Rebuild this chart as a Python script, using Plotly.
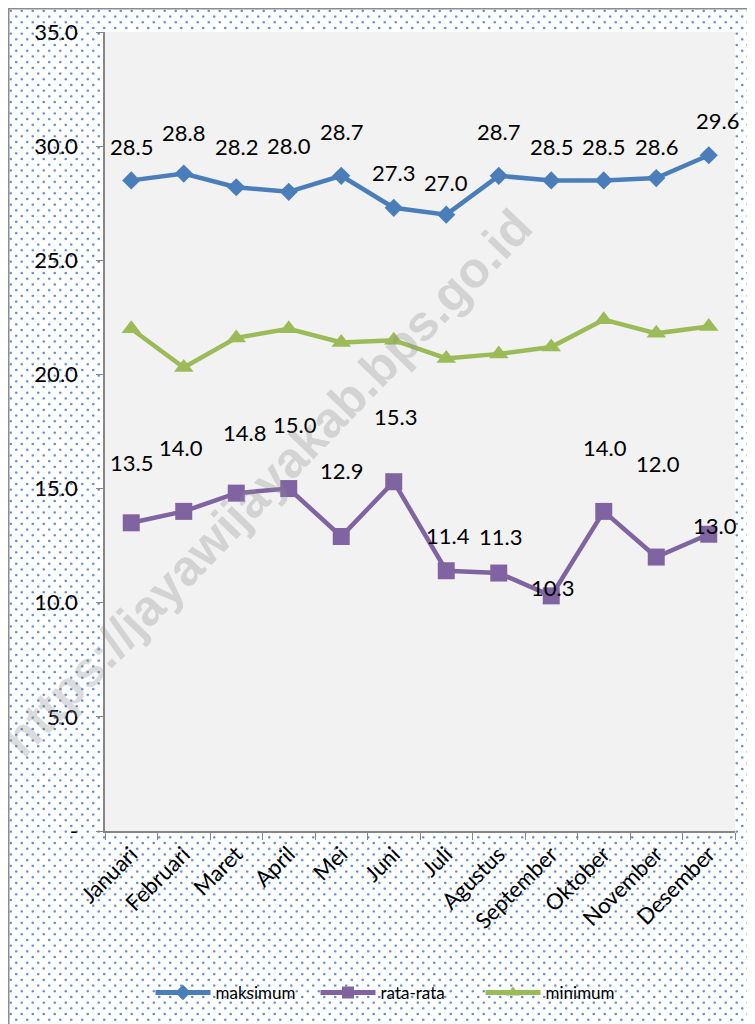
import plotly.graph_objects as go

bulan = ["Januari", "Februari", "Maret", "April", "Mei", "Juni", "Juli",
         "Agustus", "September", "Oktober", "November", "Desember"]
maksimum = [28.5, 28.8, 28.2, 28.0, 28.7, 27.3, 27.0, 28.7, 28.5, 28.5, 28.6, 29.6]
rata_rata = [13.5, 14.0, 14.8, 15.0, 12.9, 15.3, 11.4, 11.3, 10.3, 14.0, 12.0, 13.0]
minimum = [22.0, 20.3, 21.6, 22.0, 21.4, 21.5, 20.7, 20.9, 21.2, 22.4, 21.8, 22.1]
y_ticks = [0, 5, 10, 15, 20, 25, 30, 35]
y_ticktext = ["-", "5.0", "10.0", "15.0", "20.0", "25.0", "30.0", "35.0"]

# label offsets (pixels), labels were moved by hand in the original
max_yshift = [34, 41, 41, 46, 44, 35, 32, 44, 34, 34, 32, 35]
max_xshift = [0, 0, 0, 0, 0, 0, 0, 0, 0, 0, 0, 9]
rr_yshift = [60, 64, 61, 64, 66, 65, 35, 37, 8, 64, 94, 9]
rr_xshift = [0, -3, 8, 6, 0, 2, 2, 2, 1, 1, 2, 6]

FONT = "Lato"
BLUE = "#4A7EBB"
PURPLE = "#8064A2"
GREEN = "#9BBB59"

# figure sits at (8, 8) in the page, plot area is 630 x 799
W, H = 747, 1016
L, T, PW, PH = 97, 24, 630, 799


def px(x):
    return (x - L) / PW


def py(y):
    return (T + PH - y) / PH


fig = go.Figure()
fig.add_trace(go.Scatter(x=bulan, y=maksimum, name="maksimum", mode="lines+markers",
                         line=dict(color=BLUE, width=4.5),
                         marker=dict(symbol="diamond", size=14, color=BLUE)))
fig.add_trace(go.Scatter(x=bulan, y=rata_rata, name="rata-rata", mode="lines+markers",
                         line=dict(color=PURPLE, width=4.5),
                         marker=dict(symbol="square", size=17, color=PURPLE)))
fig.add_trace(go.Scatter(x=bulan, y=minimum, name="minimum", mode="lines+markers",
                         line=dict(color=GREEN, width=4.5),
                         marker=dict(symbol="triangle-up", size=17, color=GREEN)))

for series, ys, xs in [(maksimum, max_yshift, max_xshift), (rata_rata, rr_yshift, rr_xshift)]:
    for b, v, dy, dx in zip(bulan, series, ys, xs):
        fig.add_annotation(x=b, y=v, text=f"{v:.1f}", showarrow=False,
                           yshift=dy, xshift=dx,
                           font=dict(family=FONT, size=22, color="black"))

# watermark
fig.add_annotation(x=px(259), y=py(475), xref="paper", yref="paper",
                   xanchor="center", yanchor="middle",
                   text="<b>https://jayawijayakab.bps.go.id</b>", showarrow=False,
                   textangle=-46, font=dict(family="Liberation Sans", size=50,
                                             color="rgba(140,140,140,0.3)"))

# dotted chart background
pattern = ("data:image/svg+xml;utf8,"
           f"<svg xmlns='http://www.w3.org/2000/svg' width='{W}' height='{H}'>"
           "<defs><pattern id='p' width='11' height='11.4' patternUnits='userSpaceOnUse'>"
           "<circle cx='2.75' cy='2.85' r='1.3' fill='%235B8BD0'/>"
           "<circle cx='8.25' cy='8.55' r='1.3' fill='%235B8BD0'/></pattern></defs>"
           f"<rect width='{W}' height='{H}' fill='white'/>"
           f"<rect width='{W}' height='{H}' fill='url(%23p)'/></svg>")
fig.add_layout_image(source=pattern, xref="paper", yref="paper",
                     x=px(0), y=py(0), sizex=W / PW, sizey=H / PH, sizing="stretch",
                     xanchor="left", yanchor="top", layer="below")
fig.add_shape(type="rect", xref="paper", yref="paper", x0=0, x1=1, y0=0, y1=1,
              fillcolor="#F2F2F2", line=dict(width=0), layer="below")
fig.add_shape(type="rect", xref="paper", yref="paper",
              x0=px(0.75), x1=px(W + 5), y0=py(H + 5), y1=py(0.75),
              fillcolor="rgba(0,0,0,0)", line=dict(color="#8C8C8C", width=1.5), layer="below")

fig.update_xaxes(type="category", tickson="boundaries", ticks="outside", ticklen=7,
                 tickcolor="#868686", showline=True, linecolor="#868686", linewidth=1.5,
                 tickangle=-45, tickfont=dict(family=FONT, size=22, color="black"),
                 showgrid=False, range=[-0.5, 11.5])
fig.update_yaxes(range=[0, 35], tickvals=y_ticks, ticktext=y_ticktext, ticks="outside",
                 ticklen=7, tickcolor="#868686", showline=True, linecolor="#868686",
                 linewidth=1.5, showgrid=False, zeroline=False, ticklabelstandoff=14,
                 tickfont=dict(family=FONT, size=22, color="black"))

fig.update_layout(
    width=W, height=H,
    margin=dict(l=L, r=W - L - PW, t=T, b=H - T - PH, autoexpand=False),
    paper_bgcolor="white", plot_bgcolor="rgba(0,0,0,0)",
    showlegend=True,
    legend=dict(orientation="h", x=px(390), xanchor="center", y=py(985), yanchor="middle",
                font=dict(family=FONT, size=17, color="black"),
                itemsizing="constant", bgcolor="rgba(0,0,0,0)", itemwidth=55,
                entrywidth=95),
)

fig.write_html("out.html")
